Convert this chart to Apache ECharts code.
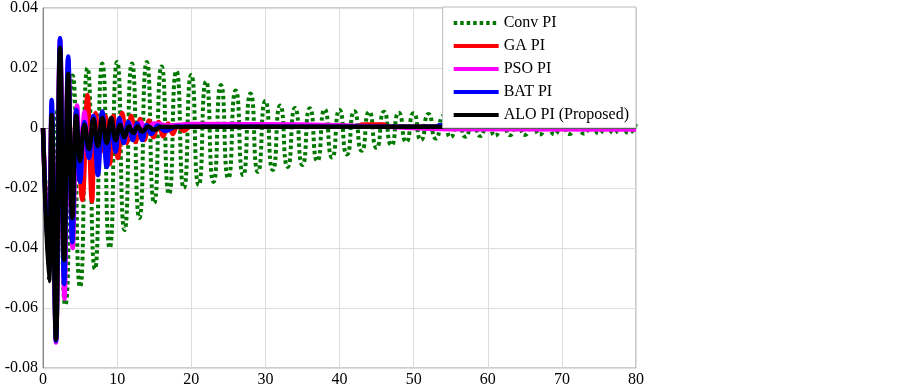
<!DOCTYPE html>
<html>
<head>
<meta charset="utf-8">
<title>PI response</title>
<script src="https://cdn.jsdelivr.net/npm/echarts/dist/echarts.min.js"></script>
<style>
  html, body { margin: 0; padding: 0; background: #fff; }
  #chart { width: 899px; height: 389px; }
</style>
</head>
<body>
<div id="chart"></div>
<script>
// Conv PI (dotted green): one extremum per time unit
const convT = [0, 1, 2, 3, 4, 5, 6, 7, 8, 9, 10, 11, 12, 13, 14, 15, 16, 17, 18, 19, 20,
  21, 22, 23, 24, 25, 26, 27, 28, 29, 30, 31, 32, 33, 34, 35, 36, 37, 38, 39, 40,
  41, 42, 43, 44, 45, 46, 47, 48, 49, 50, 51, 52, 53, 54, 55, 56, 57, 58, 59, 60,
  61, 62, 63, 64, 65, 66, 67, 68, 69, 70, 71, 72, 73, 74, 75, 76, 77, 78, 79, 80]
const convV = [0, -0.030, 0.006, -0.059, 0.0175, -0.053, 0.020, -0.047, 0.0215, -0.040, 0.022,
  -0.034, 0.0215, -0.030, 0.022, -0.025, 0.0205, -0.022, 0.019, -0.020, 0.0177,
  -0.019, 0.0155, -0.018, 0.0143, -0.0167, 0.0125, -0.0157, 0.0115, -0.0146, 0.009,
  -0.014, 0.0075, -0.013, 0.0067, -0.0123, 0.0066, -0.011, 0.0062, -0.0098, 0.006,
  -0.0088, 0.0056, -0.0076, 0.0054, -0.0066, 0.0054, -0.0057, 0.0051, -0.0046, 0.0049,
  -0.004, 0.0047, -0.0035, 0.004, -0.0031, 0.0032, -0.0029, 0.0027, -0.0027, 0.0024,
  -0.0026, 0.0022, -0.0024, 0.002, -0.0023, 0.0019, -0.0022, 0.0018, -0.0021, 0.0017,
  -0.002, 0.0016, -0.0019, 0.0015, -0.0018, 0.0015, -0.0017, 0.0014, -0.0016, 0.0013]

// GA PI (red)
const gaT = [0, 0.8, 1.17, 1.75, 2.3, 2.85, 3.4, 3.95, 4.5, 5.3, 6.0, 6.6, 7.1, 7.8, 8.4, 9.0,
  9.5, 10.1, 10.7, 11.3, 11.9, 12.5, 13.1, 13.7, 14.3, 14.9, 15.6, 16.2, 16.9, 17.5, 18.2,
  19, 20, 25, 40, 42.5, 43, 46, 46.5, 55.5, 56, 58, 58.5, 80]
const gaV = [0, -0.045, 0.005, -0.068, 0.027, -0.05, 0.02, -0.035, 0.006, -0.024, 0.011, -0.0245,
  0.005, -0.008, 0.004, -0.012, 0.004, -0.010, 0.005, -0.005, 0.004, -0.0047, 0.003, -0.004,
  0.0025, -0.003, 0.002, -0.0027, 0.0015, -0.002, 0.001, -0.001, 0.0006, 0.0005, 0.0004,
  0.0004, 0.0012, 0.0012, 0.0004, 0.0004, 0.001, 0.001, 0.0004, 0.0004]

// PSO PI (magenta)
const psoT = [0, 0.8, 1.17, 1.75, 2.3, 2.9, 3.4, 4.0, 4.6, 5.1, 5.6, 6.2, 6.8, 7.4, 8.0, 8.6,
  9.2, 9.8, 10.4, 11.0, 11.6, 12.4, 13.2, 14, 15, 17, 20, 35, 45, 55, 80]
const psoV = [0, -0.046, 0.007, -0.0715, 0.0298, -0.057, 0.023, -0.040, 0.0075, -0.016, 0.0054,
  -0.010, 0.004, -0.013, 0.005, -0.010, 0.003, -0.006, 0.003, -0.004, 0.002, -0.002, 0.0018,
  -0.0005, 0.0015, 0.0008, 0.0013, 0.0012, 0.0005, -0.0004, -0.0005]

// BAT PI (blue)
const batT = [0, 0.8, 1.17, 1.75, 2.3, 2.85, 3.4, 3.95, 4.5, 5.0, 5.6, 6.2, 6.8, 7.4, 8.0, 8.6,
  9.2, 9.8, 10.3, 10.9, 11.5, 12.1, 12.7, 13.4, 14, 14.6, 15.5, 16.5, 18, 20, 53, 53.5, 56, 56.5, 80]
const batV = [0, -0.048, 0.0093, -0.071, 0.0299, -0.052, 0.0238, -0.038, 0.006, -0.018, 0.002,
  -0.010, 0.004, -0.0157, 0.0055, -0.013, 0.002, -0.008, 0.0033, -0.005, 0.002, -0.004, 0.0015,
  -0.004, 0.001, -0.002, 0.0008, -0.001, 0.0005, 0.0004, 0.0004, 0.0009, 0.0009, 0.0004, 0.0004]

// ALO PI (Proposed, black)
const aloT = [0, 0.8, 1.17, 1.75, 2.3, 2.85, 3.4, 3.95, 4.5, 5.0, 5.6, 6.2, 6.8, 7.4, 8.0, 8.6,
  9.2, 9.8, 10.4, 11.0, 11.6, 12.2, 12.8, 13.4, 14.2, 15, 16, 18, 20, 80]
const aloV = [0, -0.051, 0.0043, -0.0705, 0.0267, -0.044, 0.018, -0.030, 0.004, -0.011, 0.001,
  -0.007, 0.003, -0.006, 0.0033, -0.005, 0.0033, -0.004, 0.001, -0.003, 0.0005, -0.0017, 0.0005,
  -0.0012, 0.0005, -0.0006, 0.0004, 0.0003, 0.00045, 0.00045]

const xTicks = { min: 0, max: 80, step: 10 }
const yTicks = { min: -0.08, max: 0.04, step: 0.02 }

const serif = 'Liberation Serif'

function pairs (ts, vs) {
  return ts.map((t, i) => [t, vs[i]])
}

function thickLine (name, color, ts, vs) {
  return {
    name: name,
    type: 'line',
    symbol: 'none',
    smooth: 0.4,
    data: pairs(ts, vs),
    lineStyle: { color: color, width: 4.5 },
    itemStyle: { color: color }
  }
}

const chart = echarts.init(document.getElementById('chart'))
chart.setOption({
  animation: false,
  backgroundColor: '#fff',
  grid: {
    left: 43,
    right: 263,
    top: 8,
    bottom: 21,
    show: true,
    borderColor: '#999',
    borderWidth: 1
  },
  legend: {
    orient: 'vertical',
    right: 263,
    top: 7,
    align: 'left',
    itemWidth: 45,
    itemHeight: 14,
    itemGap: 7,
    padding: [8, 7, 5, 9],
    backgroundColor: '#fff',
    borderColor: '#bbb',
    borderWidth: 1,
    borderRadius: 0,
    itemStyle: { opacity: 0 },
    lineStyle: { width: 4 },
    textStyle: { fontFamily: serif, fontSize: 16, color: '#000' }
  },
  xAxis: {
    type: 'value',
    min: xTicks.min,
    max: xTicks.max,
    interval: xTicks.step,
    axisLine: { lineStyle: { color: '#888' } },
    axisTick: { show: false },
    axisLabel: { fontFamily: serif, fontSize: 16, color: '#000', margin: 4 },
    splitLine: { lineStyle: { color: '#ddd' } }
  },
  yAxis: {
    type: 'value',
    min: yTicks.min,
    max: yTicks.max,
    interval: yTicks.step,
    axisLine: { show: true, lineStyle: { color: '#888' } },
    axisTick: { show: false },
    axisLabel: {
      fontFamily: serif,
      fontSize: 16,
      color: '#000',
      margin: 5,
      formatter: v => (Math.abs(v) < 1e-9 ? '0' : v.toFixed(2))
    },
    splitLine: { lineStyle: { color: '#ddd' } }
  },
  series: [
    {
      name: 'Conv PI',
      type: 'line',
      symbol: 'none',
      smooth: 0.7,
      data: pairs(convT, convV),
      lineStyle: { color: '#007800', width: 4, type: [3.5, 3], cap: 'butt' },
      itemStyle: { color: '#007800' }
    },
    thickLine('GA PI', '#ff0000', gaT, gaV),
    thickLine('PSO PI', '#ff00ff', psoT, psoV),
    thickLine('BAT PI', '#0000ff', batT, batV),
    thickLine('ALO PI (Proposed)', '#000000', aloT, aloV)
  ]
})
</script>
</body>
</html>
